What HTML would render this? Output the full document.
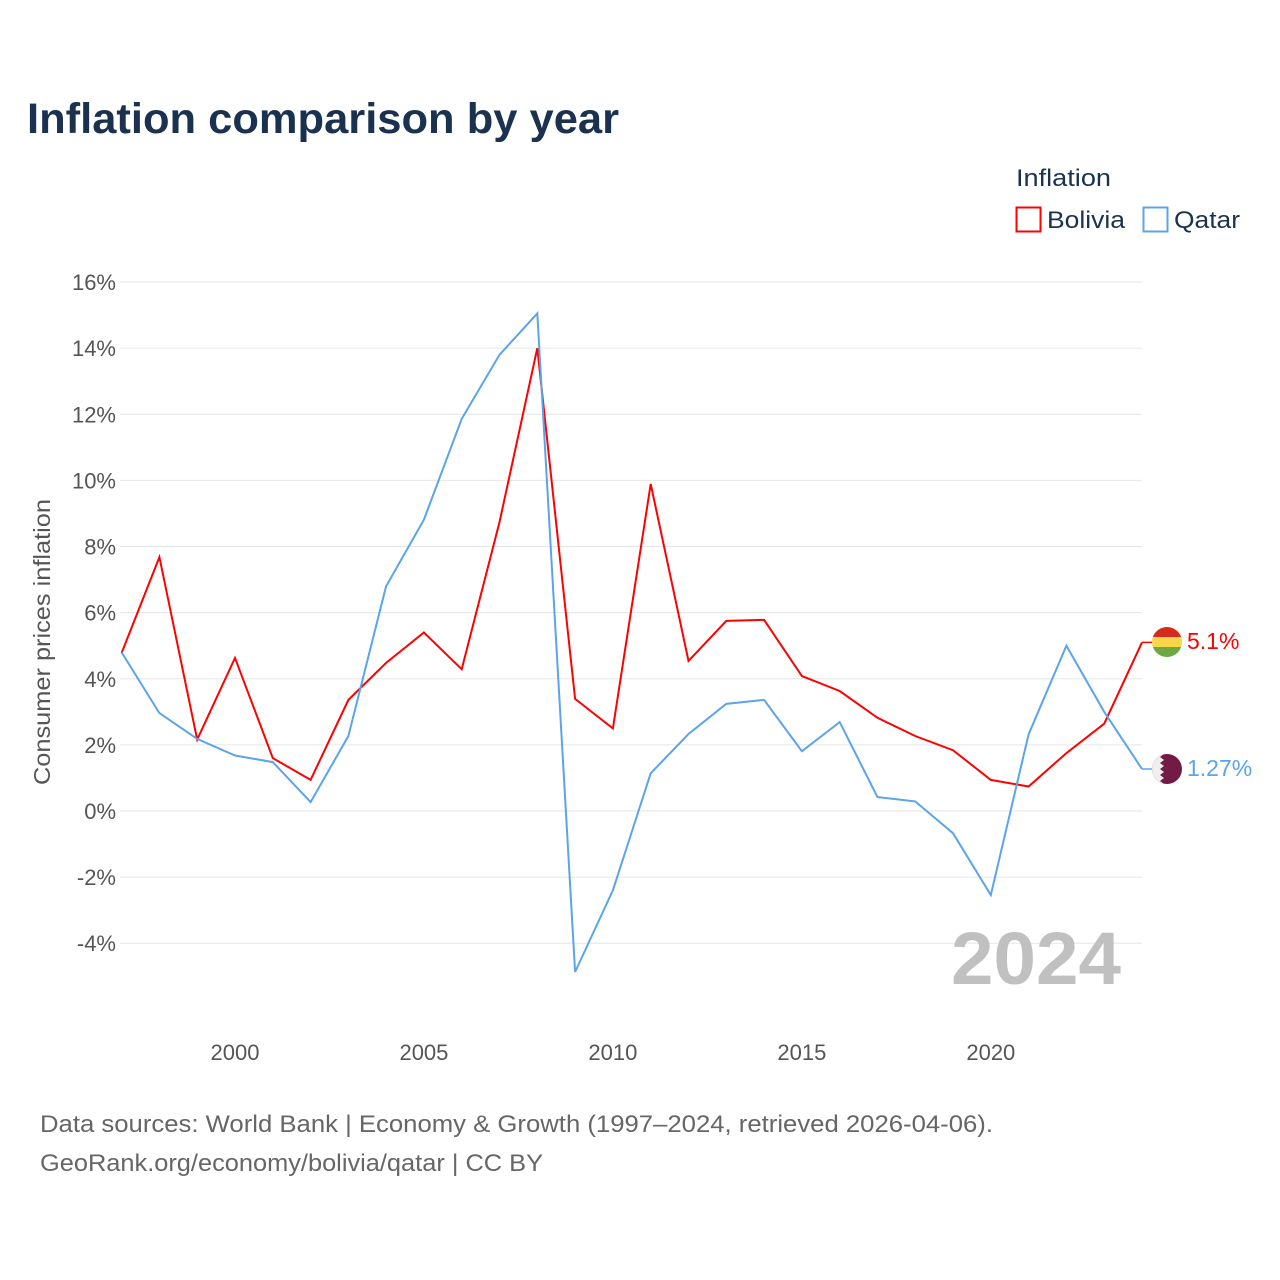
<!DOCTYPE html>
<html><head><meta charset="utf-8">
<style>
html,body{margin:0;padding:0;background:#fff;width:1280px;height:1280px;overflow:hidden;font-family:"Liberation Sans",sans-serif;}
</style></head>
<body>
<svg id="chart" width="1280" height="1280" xmlns="http://www.w3.org/2000/svg" font-family="Liberation Sans, sans-serif">
<text x="27" y="133" font-size="43" font-weight="bold" fill="#1a3150" textLength="592" lengthAdjust="spacingAndGlyphs">Inflation comparison by year</text>
<text x="1016" y="186" font-size="24" fill="#1a3150" textLength="95" lengthAdjust="spacingAndGlyphs">Inflation</text>
<g>
<rect x="1016.5" y="207.5" width="24" height="24" fill="none" stroke="#ff0000" stroke-width="2"/>
<text x="1047" y="228" font-size="24" fill="#1a3150" textLength="78" lengthAdjust="spacingAndGlyphs">Bolivia</text>
</g>
<g>
<rect x="1143.5" y="207.5" width="24" height="24" fill="none" stroke="#5ba4ea" stroke-width="2"/>
<text x="1174" y="228" font-size="24" fill="#1a3150" textLength="66" lengthAdjust="spacingAndGlyphs">Qatar</text>
</g>
<g id="grid"></g>
<g id="yticks"></g>
<g id="xticks"></g>
<text transform="translate(50,642) rotate(-90)" text-anchor="middle" font-size="23" fill="#555" textLength="286" lengthAdjust="spacingAndGlyphs">Consumer prices inflation</text>
<text x="1121" y="984" text-anchor="end" font-size="74" font-weight="bold" fill="#c0c0c0" textLength="170" lengthAdjust="spacingAndGlyphs">2024</text>
<g id="series"></g>
<g>
<clipPath id="cb"><circle cx="1167" cy="642" r="15"/></clipPath>
<g clip-path="url(#cb)"><rect x="1150" y="626" width="34" height="11" fill="#d52b1e"/><rect x="1150" y="637" width="34" height="10" fill="#f9d649"/><rect x="1150" y="647" width="34" height="12" fill="#6ea843"/></g>
</g>
<g>
<clipPath id="cq"><circle cx="1167" cy="769" r="15"/></clipPath>
<g clip-path="url(#cq)"><rect x="1150" y="752" width="34" height="34" fill="#741b45"/><path d="M1150 752 H1160 L1164 754 L1160 757 L1164 760 L1160 763 L1164 766 L1160 769 L1164 772 L1160 775 L1164 778 L1160 781 L1164 784 L1160 786 H1150Z" fill="#eee"/></g>
</g>
<text x="1187" y="649" font-size="23" fill="#ff0000">5.1%</text>
<text x="1187" y="776" font-size="23" fill="#5ba4ea">1.27%</text>
<text x="40" y="1132" font-size="24" fill="#666" textLength="953" lengthAdjust="spacingAndGlyphs">Data sources: World Bank | Economy &amp; Growth (1997–2024, retrieved 2026-04-06).</text>
<text x="40" y="1171" font-size="24" fill="#666" textLength="503" lengthAdjust="spacingAndGlyphs">GeoRank.org/economy/bolivia/qatar | CC BY</text>
</svg>
<script>
const years = [1997,1998,1999,2000,2001,2002,2003,2004,2005,2006,2007,2008,2009,2010,2011,2012,2013,2014,2015,2016,2017,2018,2019,2020,2021,2022,2023,2024];
const bolivia = [4.78,7.68,2.16,4.63,1.6,0.94,3.36,4.48,5.4,4.29,8.74,14.0,3.39,2.5,9.89,4.54,5.75,5.78,4.08,3.63,2.82,2.27,1.84,0.94,0.74,1.75,2.64,5.1];
const qatar = [4.8,2.96,2.18,1.68,1.48,0.27,2.27,6.8,8.81,11.86,13.8,15.05,-4.87,-2.4,1.14,2.33,3.24,3.36,1.81,2.69,0.42,0.29,-0.67,-2.54,2.32,5.0,3.0,1.27];
const yTicks = [-4,-2,0,2,4,6,8,10,12,14,16];
const xTicks = [2000,2005,2010,2015,2020];
const NS='http://www.w3.org/2000/svg';
const xs = y => 121.6 + (y-1997)*(1142-121.6)/27;
const ys = v => 811 - v*33.06;
function mk(t,a,p){const e=document.createElementNS(NS,t);for(const k in a)e.setAttribute(k,a[k]);p.appendChild(e);return e;}
const grid=document.getElementById('grid'), yt=document.getElementById('yticks'), xt=document.getElementById('xticks'), ser=document.getElementById('series');
yTicks.forEach(v=>{
  const l=mk('line',{x1:120,x2:1142,y1:ys(v),y2:ys(v),stroke:'#e6e6e6','stroke-width':1},grid);
  
  
  const t=mk('text',{x:116,y:ys(v)+8,'text-anchor':'end','font-size':22,fill:'#555'},yt);
  t.textContent=v+'%';
  
  
});
xTicks.forEach(y=>{
  const t=mk('text',{x:xs(y),y:1060,'text-anchor':'middle','font-size':22,fill:'#555'},xt);
  t.textContent=y;
  
  
});
function line(vals,color,name){
  const pts=vals.map((v,i)=>xs(years[i]).toFixed(1)+','+ys(v).toFixed(1));
  const p=mk('polyline',{points:pts.join(' '),fill:'none',stroke:color,'stroke-width':2,'stroke-linejoin':'miter'},ser);
  
  
  const last=vals[vals.length-1];
  const c=mk('line',{x1:xs(years[years.length-1]),x2:1152,y1:ys(last),y2:ys(last),stroke:color,'stroke-width':1.5},ser);
  
  
}
line(bolivia,'#ff0000','bolivia-line');
line(qatar,'#5ba4ea','qatar-line');
</script>
</body></html>
